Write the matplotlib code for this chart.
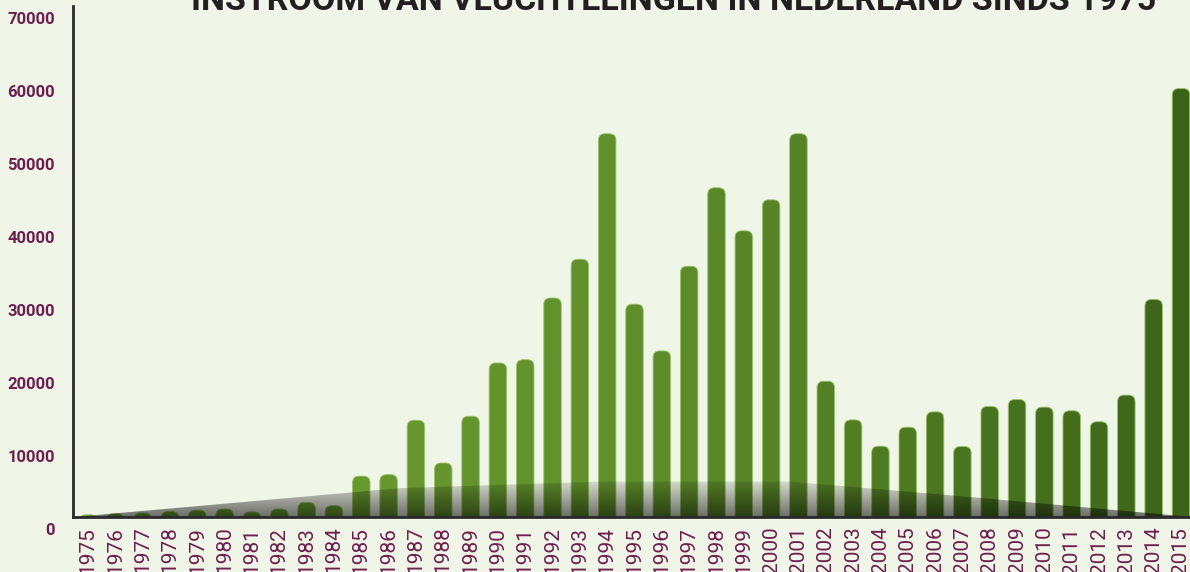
import numpy as np
import matplotlib.pyplot as plt
import matplotlib.transforms as mtransforms
from matplotlib.patches import FancyBboxPatch, Polygon
from matplotlib.colors import LinearSegmentedColormap

# Instroom van vluchtelingen (asielaanvragen) per jaar
jaren = list(range(1975, 2016))
instroom = [300, 450, 550, 750, 950, 1100, 700, 1100, 2000, 1550,
            5600, 5800, 13250, 7400, 13800, 21100, 21550, 30000, 35300, 52500,
            29150, 22750, 34350, 45100, 39200, 43450, 52500, 18600, 13300, 9700,
            12300, 14400, 9650, 15150, 16100, 15050, 14550, 13050, 16700, 29800,
            58700]
yticks = [0, 10000, 20000, 30000, 40000, 50000, 60000, 70000]
titel = "INSTROOM VAN VLUCHTELINGEN IN NEDERLAND SINDS 1975"

achtergrond = "#eff5e7"
bordeaux = "#6e1e4e"
groen = LinearSegmentedColormap.from_list("groen", ["#6ea432", "#5f8f2a", "#3c6419"])

fig = plt.figure(figsize=(11.9, 5.72), dpi=100, facecolor=achtergrond)
ax = fig.add_axes([73 / 1190, 1 - 517 / 572, 1 - 73 / 1190, 511 / 572])
ax.set_facecolor(achtergrond)

n = len(jaren)

# afgeronde staven
breedte = 0.64
for i, waarde in enumerate(instroom):
    kleur = groen(i / (n - 1))
    staaf = FancyBboxPatch((i - breedte / 2, -3000), breedte, waarde + 3000,
                           boxstyle="round,pad=0,rounding_size=0.24",
                           mutation_aspect=3700, facecolor=kleur,
                           edgecolor="#9cc46a", linewidth=0.6, zorder=2)
    ax.add_patch(staaf)

# schaduw onderaan (decoratief)
rand = [(-0.5, 0), (11.4, 3950), (18.7, 4850), (25.7, 4850), (32.7, 2600), (n - 1 + 0.4, 0)]
vorm = Polygon(rand, closed=True, transform=ax.transData, facecolor="none", edgecolor="none")
ax.add_patch(vorm)
grad = np.zeros((100, 2, 4))
grad[:, :, 3] = np.linspace(0.55, 0.10, 100)[:, None]
beeld = ax.imshow(grad, extent=(-0.6, n, 0, 5000), origin="lower", aspect="auto",
                  interpolation="bilinear", zorder=3)
beeld.set_clip_path(vorm)
ax.set_xlim(-0.55, n - 1 + 0.33)
ax.set_ylim(0, 70000)

# assen
for kant in ["top", "right"]:
    ax.spines[kant].set_visible(False)
for kant in ["left", "bottom"]:
    ax.spines[kant].set_color("#2a2a2a")
    ax.spines[kant].set_linewidth(2)
    ax.spines[kant].set_zorder(4)

ax.set_yticks(yticks)
ax.set_yticklabels([str(t) for t in yticks], fontfamily="Roboto", fontweight="bold",
                   fontsize=12, color=bordeaux)
ax.tick_params(axis="y", length=0, pad=13)
verschuiving = mtransforms.ScaledTranslation(0, -12 / 100, fig.dpi_scale_trans)
for lab in ax.get_yticklabels():
    lab.set_transform(lab.get_transform() + verschuiving)

ax.set_xticks(range(n))
ax.set_xticklabels([str(j) for j in jaren], rotation=90, fontfamily="Roboto",
                   fontsize=15, color=bordeaux)
ax.tick_params(axis="x", length=0, pad=7)

fig.text(673.5 / 1190, 1 - 10 / 572, titel, ha="center", va="baseline",
         fontfamily="Roboto", fontweight="bold", fontsize=24.5, color="#231f20")

fig.savefig("out.png", dpi=100, facecolor=achtergrond)
